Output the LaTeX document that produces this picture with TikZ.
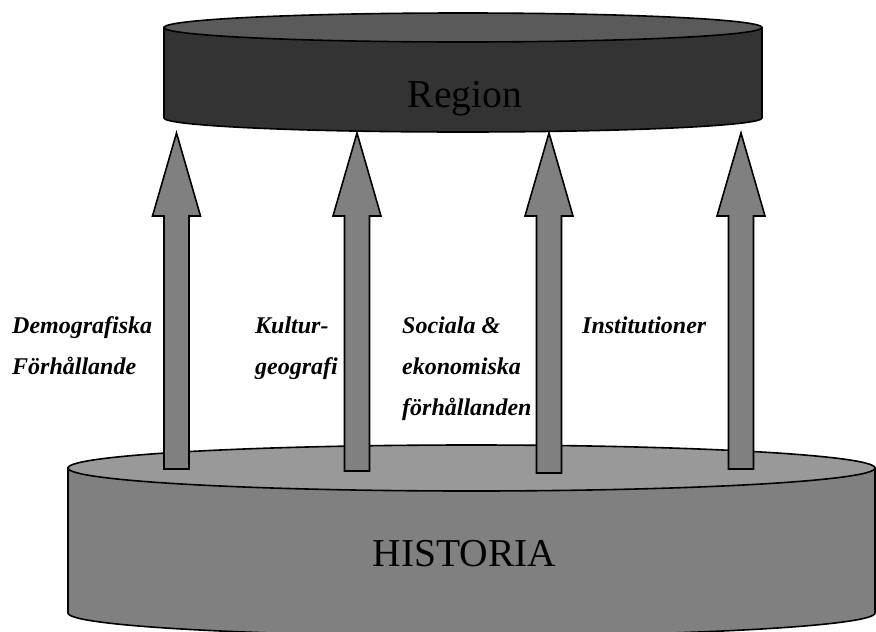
\documentclass[tikz,border=0pt]{standalone}
\usepackage{fontspec}
\setmainfont{Liberation Serif}
\usetikzlibrary{calc}
\definecolor{regiontop}{RGB}{90,90,90}
\definecolor{regionside}{RGB}{51,51,51}
\definecolor{histtop}{RGB}{153,153,153}
\definecolor{histside}{RGB}{128,128,128}
\definecolor{arrowfill}{RGB}{128,128,128}
\begin{document}
\begin{tikzpicture}[x=1pt,y=1pt,
  outline/.style={draw=black,line width=1.6pt,line join=miter},
  factor/.style={font=\fontsize{24}{41}\selectfont\bfseries\itshape, align=left, anchor=base west, inner sep=0pt},
  title/.style={font=\fontsize{39.5}{40}\selectfont, anchor=base, inner sep=0pt},
  blockarrow/.style={outline, fill=arrowfill}]
\useasboundingbox (0,0) rectangle (876,-632);

% base cylinder (HISTORIA), running off the lower edge
\begin{scope}
  \clip (0,0) rectangle (876,-632);
  \path[outline, fill=histside] (68,-468) -- (68,-613)
    arc[start angle=180, end angle=360, x radius=403.5, y radius=23] -- (875,-468) -- cycle;
  \path[outline, fill=histtop] (471.5,-468) ellipse[x radius=403.5, y radius=23];
\end{scope}

% upper cylinder (Region)
\path[outline, fill=regionside] (164,-27.5) -- (164,-118)
  arc[start angle=180, end angle=360, x radius=299, y radius=14] -- (762,-27.5) -- cycle;
\path[outline, fill=regiontop] (463,-27.5) ellipse[x radius=299, y radius=14.5];

\node[title] (region) at (465,-107) {Region};
\node[title] (historia) at (464.5,-566) {HISTORIA};

% block arrows from HISTORIA up to Region
\coordinate (tip1) at (176.5,-133); \coordinate (base1) at (176.5,-469);
\coordinate (tip2) at (357,-133);   \coordinate (base2) at (357,-471);
\coordinate (tip3) at (549,-133);   \coordinate (base3) at (549,-473);
\coordinate (tip4) at (741,-133);   \coordinate (base4) at (741,-469);
\foreach \n in {1,2,3,4} {
  \draw[blockarrow] (tip\n) -- ($(tip\n)+(24,-83)$) -- ($(tip\n)+(12.5,-83)$)
    -- ($(base\n)+(12.5,0)$) -- ($(base\n)+(-12.5,0)$)
    -- ($(tip\n)+(-12.5,-83)$) -- ($(tip\n)+(-24,-83)$) -- cycle;
}

% factor labels (anchored at the baseline of their last line)
\node[factor] (demo) at (12,-374) {Demografiska\\Förhållande};
\node[factor] (kultur) at (255,-374) {Kultur-\\geografi};
\node[factor] (social) at (402,-415) {Sociala \&\\ekonomiska\\förhållanden};
\node[factor] (inst) at (582,-333) {Institutioner};
\end{tikzpicture}
\end{document}
